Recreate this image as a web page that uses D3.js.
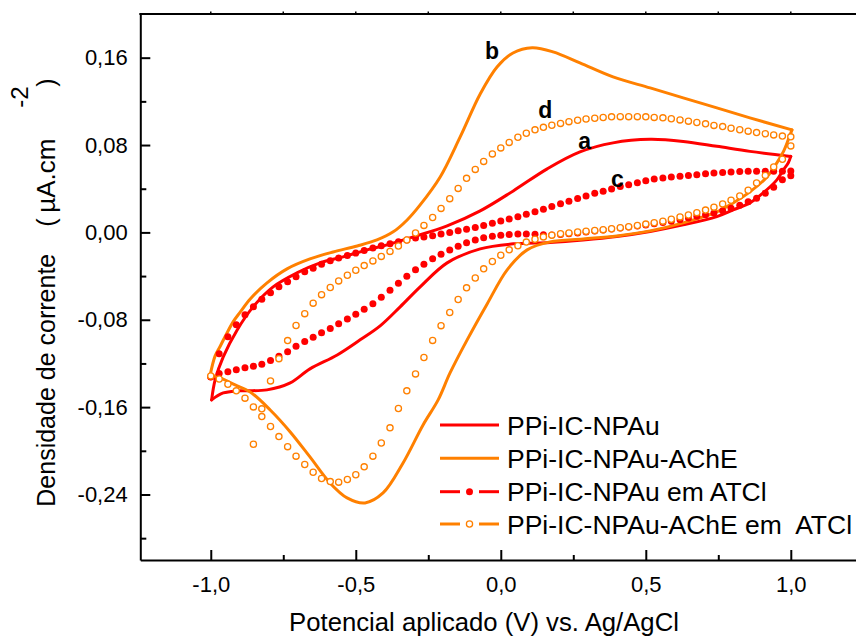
<!DOCTYPE html>
<html><head><meta charset="utf-8">
<script src="https://cdn.jsdelivr.net/npm/d3@7"></script>
<style>
body{margin:0;background:#fff;}
svg{display:block;font-family:"Liberation Sans",Arial,sans-serif;}
</style>
</head><body>
<svg id="chart" width="856" height="641"></svg>
<script>
// ---------------- DATA ----------------
const seriesNames = ["PPi-IC-NPAu","PPi-IC-NPAu-AChE","PPi-IC-NPAu em ATCl","PPi-IC-NPAu-AChE em  ATCl"];
const seriesColors = ["#FF0000","#FF8000","#FF0000","#FF8000"];

// curve a : PPi-IC-NPAu (solid red)
const aFwdE = [-0.997,-0.985,-0.957,-0.909,-0.854,-0.785,-0.703,-0.623,-0.544,-0.461,-0.392,-0.302,-0.185,-0.071,0.043,0.160,0.273,0.387,0.515,0.629,0.745,0.859,1.000];
const aFwdJ = [-0.1534,-0.1351,-0.1140,-0.0893,-0.0682,-0.0499,-0.0371,-0.0279,-0.0224,-0.0160,-0.0114,-0.0041,0.0060,0.0197,0.0380,0.0582,0.0737,0.0820,0.0852,0.0833,0.0788,0.0742,0.0696];
const aRevE = [1.000,0.991,0.974,0.952,0.905,0.859,0.801,0.745,0.629,0.515,0.400,0.284,0.170,0.043,-0.071,-0.185,-0.278,-0.347,-0.416,-0.485,-0.564,-0.658,-0.726,-0.806,-0.899,-0.957,-0.997];
const aRevJ = [0.0696,0.0636,0.0572,0.0481,0.0362,0.0270,0.0206,0.0145,0.0069,0.0009,-0.0037,-0.0069,-0.0092,-0.0105,-0.0151,-0.0279,-0.0499,-0.0682,-0.0856,-0.0984,-0.1122,-0.1250,-0.1378,-0.1442,-0.1451,-0.1470,-0.1534];

// curve b : PPi-IC-NPAu-AChE (solid orange)
const bFwdE = [-1.002,-0.985,-0.967,-0.944,-0.923,-0.898,-0.864,-0.806,-0.737,-0.658,-0.578,-0.495,-0.427,-0.371,-0.323,-0.278,-0.209,-0.140,-0.071,-0.013,0.042,0.108,0.180,0.273,0.387,0.515,0.629,0.745,0.859,1.004];
const bFwdJ = [-0.1305,-0.1131,-0.1040,-0.0920,-0.0819,-0.0728,-0.0609,-0.0462,-0.0334,-0.0243,-0.0179,-0.0124,-0.0069,0.0005,0.0114,0.0252,0.0508,0.0875,0.1268,0.1515,0.1643,0.1690,0.1653,0.1552,0.1424,0.1323,0.1232,0.1140,0.1049,0.0939];
const bRevE = [1.004,0.991,0.974,0.952,0.918,0.859,0.801,0.745,0.629,0.515,0.400,0.284,0.170,0.091,0.022,-0.047,-0.116,-0.175,-0.216,-0.268,-0.337,-0.406,-0.468,-0.530,-0.589,-0.658,-0.726,-0.795,-0.864,-0.916,-0.967,-1.002];
const bRevJ = [0.0939,0.0847,0.0737,0.0637,0.0508,0.0371,0.0270,0.0188,0.0087,0.0014,-0.0032,-0.0060,-0.0087,-0.0160,-0.0343,-0.0655,-0.0984,-0.1287,-0.1534,-0.1763,-0.2111,-0.2386,-0.2477,-0.2431,-0.2294,-0.2056,-0.1827,-0.1626,-0.1461,-0.1397,-0.1333,-0.1305];

// scan potentials of the symbol series (V)
const scanE = [-1.000,-0.971,-0.941,-0.912,-0.882,-0.853,-0.824,-0.794,-0.765,-0.735,-0.706,-0.676,-0.647,-0.618,-0.588,-0.559,-0.529,-0.500,-0.471,-0.441,-0.412,-0.382,-0.353,-0.324,-0.294,-0.265,-0.235,-0.206,-0.176,-0.147,-0.118,-0.088,-0.059,-0.029,0.000,0.029,0.059,0.088,0.118,0.147,0.176,0.206,0.235,0.265,0.294,0.324,0.353,0.382,0.412,0.441,0.471,0.500,0.529,0.559,0.588,0.618,0.647,0.676,0.706,0.735,0.765,0.794,0.824,0.853,0.882,0.912,0.941,0.971,1.000];

// curve c : PPi-IC-NPAu em ATCl (filled red dots)
const cFwdJ = [-0.1322,-0.1111,-0.0955,-0.0845,-0.0754,-0.0680,-0.0612,-0.0552,-0.0497,-0.0452,
-0.0406,-0.0360,-0.0328,-0.0291,-0.0259,-0.0234,-0.0211,-0.0189,-0.0166,-0.0143,
-0.0122,-0.0105,-0.0085,-0.0069,-0.0052,-0.0041,-0.0030,-0.0015,-0.0001,0.0014,
0.0029,0.0045,0.0063,0.0084,0.0104,0.0123,0.0144,0.0166,0.0188,0.0213,
0.0237,0.0263,0.0286,0.0311,0.0334,0.0358,0.0377,0.0398,0.0420,0.0437,
0.0455,0.0473,0.0488,0.0498,0.0507,0.0514,0.0521,0.0528,0.0538,0.0543,
0.0549,0.0553,0.0557,0.0559,0.0560,0.0560,0.0561,0.0561,0.0562];
const cRevJ = [0.0519,0.0483,0.0414,0.0359,0.0313,0.0281,0.0249,0.0222,0.0199,0.0178,
0.0162,0.0147,0.0131,0.0116,0.0103,0.0091,0.0080,0.0068,0.0059,0.0049,
0.0040,0.0031,0.0021,0.0012,0.0003,-0.0005,-0.0012,-0.0019,-0.0024,-0.0021,
-0.0016,-0.0015,-0.0015,-0.0019,-0.0027,-0.0036,-0.0049,-0.0070,-0.0094,-0.0126,
-0.0161,-0.0200,-0.0241,-0.0291,-0.0342,-0.0401,-0.0465,-0.0529,-0.0593,-0.0653,
-0.0703,-0.0749,-0.0793,-0.0836,-0.0880,-0.0919,-0.0960,-0.0999,-0.1042,-0.1093,
-0.1134,-0.1172,-0.1207,-0.1225,-0.1239,-0.1257,-0.1276,-0.1292,-0.1324];

// curve d : PPi-IC-NPAu-AChE em ATCl (open orange circles), forward scan starts at scanE[5]
const dFwdStart = 5;
const dFwdJ = [-0.1940,-0.1616,-0.1360,-0.1156,-0.0991,-0.0853,-0.0744,-0.0648,-0.0570,-0.0505,
-0.0444,-0.0392,-0.0346,-0.0304,-0.0261,-0.0220,-0.0174,-0.0124,-0.0069,-0.0005,
0.0064,0.0137,0.0220,0.0309,0.0403,0.0495,0.0577,0.0650,0.0719,0.0774,
0.0824,0.0872,0.0908,0.0939,0.0962,0.0981,0.0998,0.1014,0.1027,0.1038,
0.1046,0.1052,0.1058,0.1060,0.1060,0.1060,0.1058,0.1053,0.1049,0.1041,
0.1030,0.1019,0.1007,0.0994,0.0980,0.0969,0.0954,0.0940,0.0927,0.0914,
0.0904,0.0893,0.0882,0.0875];
const dRevJ = [0.0792,0.0670,0.0600,0.0522,0.0453,0.0386,0.0334,0.0295,0.0261,0.0231,
0.0204,0.0181,0.0160,0.0142,0.0121,0.0103,0.0089,0.0076,0.0063,0.0052,
0.0043,0.0033,0.0025,0.0018,0.0011,0.0004,-0.0005,-0.0013,-0.0025,-0.0041,
-0.0063,-0.0089,-0.0122,-0.0160,-0.0209,-0.0266,-0.0334,-0.0417,-0.0508,-0.0614,
-0.0733,-0.0854,-0.0989,-0.1145,-0.1296,-0.1451,-0.1612,-0.1790,-0.1928,-0.2049,
-0.2147,-0.2219,-0.2263,-0.2287,-0.2282,-0.2254,-0.2197,-0.2125,-0.2049,-0.1962,
-0.1870,-0.1778,-0.1687,-0.1598,-0.1518,-0.1451,-0.1390,-0.1343,-0.1314];

// ticks
const xTickVals = [-1.0,-0.5,0.0,0.5,1.0];
const xTickLabels = ["-1,0","-0,5","0,0","0,5","1,0"];
const xMinorVals = [-0.75,-0.25,0.25,0.75];
const xTopVals = [-1.0,-0.75,-0.5,-0.25,0.0,0.25,0.5,0.75,1.0];
const yTickVals = [-0.24,-0.16,-0.08,0.00,0.08,0.16];
const yTickLabels = ["-0,24","-0,16","-0,08","0,00","0,08","0,16"];
const yMinorVals = [-0.28,-0.20,-0.12,-0.04,0.04,0.12];

// curve annotations
const annText = ["b","d","a","c"];
const annE = [-0.054,0.129,0.267,0.380];
const annJ = [0.1589,0.1049,0.0765,0.0412];

// ---------------- CHART ----------------
const svg = d3.select("#chart");
const FONT = '"Liberation Sans",Arial,sans-serif';
const x = d3.scaleLinear().domain([-1.243,1.25]).range([140.3,863.3]);
const y = d3.scaleLinear().domain([-0.30,0.20]).range([560,14]);

function styleAxis(g, fs){
  g.attr("font-family",FONT).attr("font-size",fs);
  g.selectAll("text").attr("fill","#000");
  g.selectAll("line").attr("stroke","#000").attr("stroke-width",2);
  g.select(".domain").attr("stroke","#000").attr("stroke-width",2);
}

// minor ticks
svg.append("g").attr("transform","translate(0,560)")
  .call(d3.axisBottom(x).tickValues(xMinorVals).tickSize(-5).tickSizeOuter(0).tickFormat(""))
  .call(g=>{g.select(".domain").remove(); g.selectAll("line").attr("stroke","#000").attr("stroke-width",2);});
svg.append("g").attr("transform","translate(140.3,0)")
  .call(d3.axisLeft(y).tickValues(yMinorVals).tickSize(-6).tickSizeOuter(0).tickFormat(""))
  .call(g=>{g.select(".domain").remove(); g.selectAll("line").attr("stroke","#000").attr("stroke-width",2);});

// major axes
svg.append("g").attr("transform","translate(0,560)")
  .call(d3.axisBottom(x).tickValues(xTickVals).tickFormat((d,i)=>xTickLabels[i]).tickSize(-10).tickSizeOuter(0).tickPadding(16))
  .call(g=>styleAxis(g,22));
svg.append("g").attr("transform","translate(140.3,0)")
  .call(d3.axisLeft(y).tickValues(yTickVals).tickFormat((d,i)=>yTickLabels[i]).tickSize(-10).tickSizeOuter(0).tickPadding(12.6))
  .call(g=>styleAxis(g,22));

// top and right frame
svg.append("line").attr("x1",x.range()[0]-1).attr("x2",x.range()[1]).attr("y1",14).attr("y2",14)
  .attr("stroke","#000").attr("stroke-width",2);
svg.append("g").selectAll("line").data(xTopVals).join("line")
  .attr("x1",d=>x(d)).attr("x2",d=>x(d)).attr("y1",14).attr("y2",11.5)
  .attr("stroke","#000").attr("stroke-width",1.5);
svg.append("line").attr("x1",x.range()[1]).attr("x2",x.range()[1]).attr("y1",14).attr("y2",560)
  .attr("stroke","#000").attr("stroke-width",2);

// axis titles
svg.append("text").attr("x",484).attr("y",631).attr("text-anchor","middle")
  .attr("font-family",FONT).attr("font-size",25.7).attr("fill","#000")
  .text("Potencial aplicado (V) vs. Ag/AgCl");

const yt = svg.append("text").attr("transform","translate(55,506.7) rotate(-90)")
  .attr("font-family",FONT).attr("font-size",25).attr("fill","#000");
yt.append("tspan").attr("x",0).attr("y",0).text("Densidade de corrente");
yt.append("tspan").attr("x",280).attr("y",0).text("(");
yt.append("tspan").attr("x",294).attr("y",0).attr("font-size",26).text("\u00B5A.cm");
yt.append("tspan").attr("x",399).attr("y",-27).attr("font-size",24).text("-2");
yt.append("tspan").attr("x",420).attr("y",0).text(")");

// curves
const line = d3.line().x(d=>x(d[0])).y(d=>y(d[1])).curve(d3.curveCatmullRom.alpha(0.5));
const zip = (E,J)=>E.map((e,i)=>[e,J[i]]);
const solid = [
  {pts:zip(aFwdE,aFwdJ),c:seriesColors[0]},
  {pts:zip(aRevE,aRevJ),c:seriesColors[0]},
  {pts:zip(bFwdE,bFwdJ),c:seriesColors[1]},
  {pts:zip(bRevE,bRevJ),c:seriesColors[1]}
];
svg.append("g").selectAll("path").data(solid).join("path")
  .attr("d",d=>line(d.pts)).attr("fill","none").attr("stroke",d=>d.c)
  .attr("stroke-width",3).attr("stroke-linejoin","round").attr("stroke-linecap","round");

const scanRev = scanE.slice().reverse();
const cPts = zip(scanE,cFwdJ).concat(zip(scanRev,cRevJ));
svg.append("g").selectAll("circle").data(cPts).join("circle")
  .attr("cx",d=>x(d[0])).attr("cy",d=>y(d[1])).attr("r",3.5).attr("fill",seriesColors[2]);

const dPts = zip(scanE.slice(dFwdStart),dFwdJ).concat(zip(scanRev,dRevJ));
svg.append("g").selectAll("circle").data(dPts).join("circle")
  .attr("cx",d=>x(d[0])).attr("cy",d=>y(d[1])).attr("r",3.1)
  .attr("fill","#fff").attr("stroke",seriesColors[3]).attr("stroke-width",1.3);

// annotations
svg.append("g").selectAll("text").data(annText).join("text")
  .attr("x",(d,i)=>x(annE[i])).attr("y",(d,i)=>y(annJ[i]))
  .attr("font-family",FONT).attr("font-size",23).attr("font-weight","bold").attr("fill","#000")
  .text(d=>d);

// legend
const legY = [425,458.3,491.7,524];
const lg = svg.append("g");
seriesNames.forEach((name,i)=>{
  const c = seriesColors[i], yy = legY[i];
  if(i<2){
    lg.append("line").attr("x1",440).attr("x2",499).attr("y1",yy).attr("y2",yy).attr("stroke",c).attr("stroke-width",3);
  } else {
    lg.append("line").attr("x1",440).attr("x2",460).attr("y1",yy).attr("y2",yy).attr("stroke",c).attr("stroke-width",3);
    lg.append("line").attr("x1",479).attr("x2",499).attr("y1",yy).attr("y2",yy).attr("stroke",c).attr("stroke-width",3);
    if(i===2) lg.append("circle").attr("cx",469.5).attr("cy",yy).attr("r",3.5).attr("fill",c);
    else lg.append("circle").attr("cx",469.5).attr("cy",yy).attr("r",3.1).attr("fill","#fff").attr("stroke",c).attr("stroke-width",1.3);
  }
  lg.append("text").attr("x",507).attr("y",yy+9.5).attr("font-family",FONT).attr("font-size",26.5)
    .attr("fill","#000").attr("xml:space","preserve").style("white-space","pre").text(name);
});
</script>
</body></html>
